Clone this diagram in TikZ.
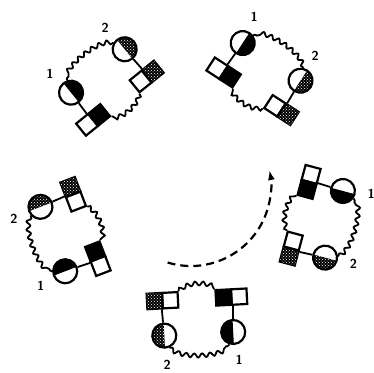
\documentclass[tikz,border=0pt]{standalone}
\usetikzlibrary{calc,decorations.pathmorphing,patterns,arrows.meta}
\tikzset{
  sq/.style={draw, line width=2.2pt, minimum size=15.5pt, inner sep=0pt, transform shape},
  circ/.style={draw, circle, line width=2.2pt, minimum size=24pt, inner sep=0pt, transform shape},
  stip/.style={fill=black, postaction={pattern=crosshatch dots, pattern color=white}},
  conn/.style={line width=1.8pt},
  wavy/.style={line width=1.8pt, decorate, decoration={snake, segment length=8pt, amplitude=2pt}},
  lab/.style={font=\fontsize{13}{13}\selectfont\bfseries\sffamily, inner sep=0pt},
  turn/.style={line width=2.2pt, dash pattern=on 8pt off 5pt, -{Latex[length=10pt,width=7pt]}},
}
\newcommand\drawunit[2]{%
  \begin{scope}[shift={($(ring)+(#2:130)$)}, rotate=#2+90]
    \fill[stip] (-34.5,-18) ++(90:12) arc[start angle=90, end angle=270, radius=12pt] -- cycle;
    \fill[black] (34.5,-18) ++(90:12) arc[start angle=90, end angle=270, radius=12pt] -- cycle;
    \node[sq, stip] (#1so) at (-42.25,17) {};
    \node[sq] (#1wi) at (-26.75,17) {};
    \node[sq, fill=black] (#1bi) at (26.75,17) {};
    \node[sq] (#1wo) at (42.25,17) {};
    \node[circ] (#1c2) at (-34.5,-18) {};
    \node[circ] (#1c1) at (34.5,-18) {};
    \draw[conn] (#1wi.south west) -- (#1c2);
    \draw[conn] (#1bi.south east) -- (#1c1);
    \draw[wavy] (#1wi.north east) .. controls +(40:11) and +(140:11) .. (#1bi.north west);
    \draw[wavy] (#1c2.-70) .. controls +(-45:15) and +(-135:15) .. (#1c1.-110);
    \node[lab] (#1ltwo) at (-33,-47) {2};
    \node[lab] (#1lone) at (39,-46) {1};
  \end{scope}}
\begin{document}
\begin{tikzpicture}[x=1pt,y=1pt]
\useasboundingbox (0,-372) rectangle (374,0);
\coordinate (ring) at (191,-186);
\drawunit{u0}{-87}
\drawunit{u1}{-15}
\drawunit{u2}{57}
\drawunit{u3}{129}
\drawunit{u4}{201}
\coordinate (as) at ($(ring)+(253:80)$);
\draw[turn] (as) arc[start angle=253, end angle=371.5, radius=80pt];
\end{tikzpicture}
\end{document}
